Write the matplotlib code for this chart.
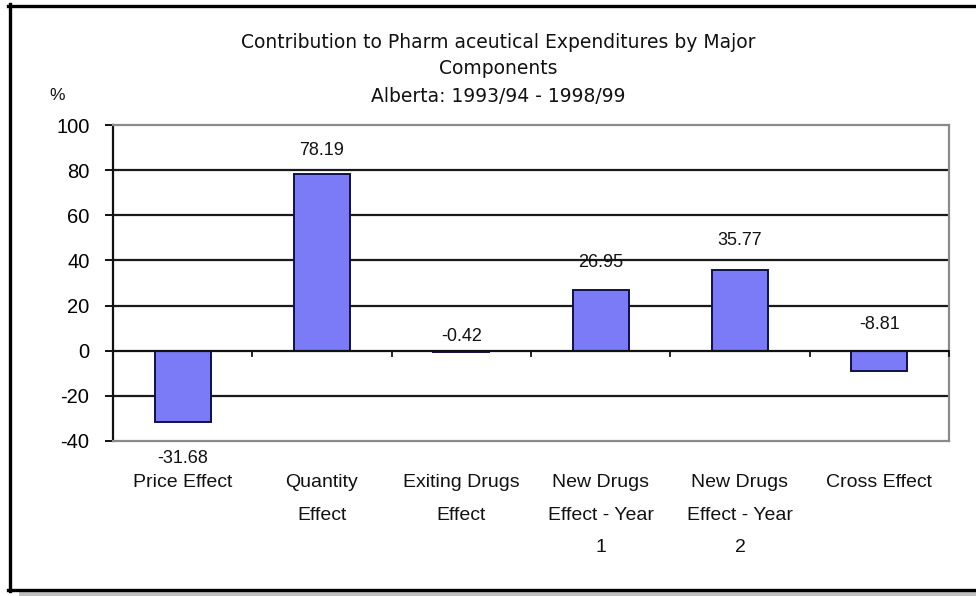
import matplotlib
matplotlib.use("Agg")
import matplotlib.pyplot as plt
from matplotlib.lines import Line2D
from matplotlib.patches import Rectangle
from matplotlib.transforms import offset_copy
import numpy as np

categories = ["Price Effect", "Quantity\nEffect", "Exiting Drugs\nEffect",
              "New Drugs\nEffect - Year\n1", "New Drugs\nEffect - Year\n2", "Cross Effect"]
values = [-31.68, 78.19, -0.42, 26.95, 35.77, -8.81]
value_labels = ["-31.68", "78.19", "-0.42", "26.95", "35.77", "-8.81"]
yticks = [-40, -20, 0, 20, 40, 60, 80, 100]
title_lines = ["Contribution to Pharm aceutical Expenditures by Major",
               "Components",
               "Alberta: 1993/94 - 1998/99"]

# label offsets in points (negative = below the bar end)
label_offsets = [-26, 17, 10, 20, 21, 19]

W, H = 976, 596
fig = plt.figure(figsize=(W / 100, H / 100), dpi=100)
fig.patch.set_facecolor("white")
plt.rcParams["font.family"] = ["Liberation Sans", "DejaVu Sans"]

def fx(px):
    return px / W

def fy(py):
    return 1 - py / H

ax = fig.add_axes([fx(113), fy(441), fx(949) - fx(113), fy(125) - fy(441)])
x = np.arange(len(categories))
ax.set_xlim(-0.5, len(categories) - 0.5)
ax.set_ylim(-40, 100)

for g in [-20, 20, 40, 60, 80]:
    ax.axhline(g, color="#1a1a1a", lw=1.6, zorder=1)

ax.bar(x, values, width=0.40, color="#7b7bf7", edgecolor="#10104a", linewidth=1.4, zorder=3)
ax.axhline(0, color="#111111", lw=1.6, zorder=4)

# category separator ticks hanging from the zero line
for b in np.arange(0.5, len(categories) - 0.5 + 0.01, 1.0):
    ax.plot([b, b], [0, -2.3], color="#111111", lw=1.3, zorder=4, clip_on=False)

for xi, v, lab, off in zip(x, values, value_labels, label_offsets):
    base = v if (v > 0 or off < 0) else 0
    ax.annotate(lab, (xi, base), xytext=(0, off), textcoords="offset points",
                ha="center", va="center", fontsize=13, color="#111111", zorder=5)

for side in ["top", "right", "bottom"]:
    ax.spines[side].set_color("#8a8a8a")
    ax.spines[side].set_linewidth(1.6)
ax.spines["left"].set_color("#111111")
ax.spines["left"].set_linewidth(1.6)

ax.set_yticks(yticks)
ax.set_yticklabels([str(t) for t in yticks], fontsize=14.5)
ax.tick_params(axis="y", length=6, width=1.4, color="#111111", pad=11)
ax.set_xticks([])

# category labels beneath the plot
label_tr = offset_copy(ax.transData, fig=fig, x=0, y=-33, units="dots")
for xi, c in zip(x, categories):
    ax.text(xi, -40, c, transform=label_tr, ha="center", va="top",
            fontsize=14, linespacing=2.2, color="#111111")

# titles
for line, ypix in zip(title_lines, [42, 68, 96]):
    fig.text(fx(498), fy(ypix), line, ha="center", va="center", fontsize=13.5,
             color="#111111", family=["DejaVu Sans"])
fig.text(fx(57), fy(96), "%", ha="center", va="center", fontsize=12.5, color="#111111")

# outer frame
fig.add_artist(Line2D([fx(8), fx(976)], [fy(5.5), fy(5.5)], color="black", lw=2.4))
fig.add_artist(Line2D([fx(9.5), fx(9.5)], [fy(4), fy(591)], color="black", lw=2.4))
fig.add_artist(Line2D([fx(8), fx(976)], [fy(590), fy(590)], color="black", lw=2.4))
fig.add_artist(Rectangle((fx(19), 0), fx(976) - fx(19), fy(591), transform=fig.transFigure,
                         color="#c0c0c0", lw=0))

fig.savefig("out.png", dpi=100, facecolor="white")
